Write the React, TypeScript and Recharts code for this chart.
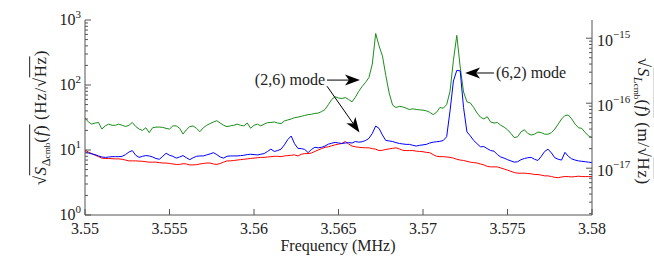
import React from "react";
import { LineChart, Line, XAxis, YAxis, ReferenceLine } from "recharts";

const SERIF = "'Liberation Serif', 'DejaVu Serif', serif";
const AXIS = "#555";

// frequency grid (MHz)
const F0 = 3.55;
const DF = 0.0002;

// sqrt(S_Δcmb) for the three traces, Hz/√Hz
const GREEN = [
  31, 27, 25, 26, 26.5, 21, 23.5, 25, 24, 24,
  25, 24, 23, 24, 26.5, 23, 21, 20, 22, 18.5,
  22, 22.5, 22.5, 22.3, 21.5, 21, 23.5, 23.5, 21.6, 17.6,
  20.5, 23, 23.4, 21.5, 19.1, 22, 24, 25.5, 27, 28.2,
  26, 24, 22.9, 23.5, 24, 25, 24, 23.5, 26, 21.6,
  24, 25, 23.5, 25, 26.3, 26.5, 27, 26, 25.5, 28,
  29, 30, 31.5, 32, 33, 34, 35, 35.5, 36.5, 37,
  39, 42, 50, 60, 66, 63, 62, 64, 60, 55,
  65, 80, 95, 110, 130, 210, 620, 400, 280, 140,
  75, 49, 45, 47, 46, 44, 42, 43, 42, 41.5,
  41, 40, 38, 35, 38, 45, 44, 50, 80, 240,
  580, 190, 78, 55, 53, 45, 37, 32, 30, 32.5,
  27, 26, 26.5, 24, 22.5, 20.5, 18, 15.5, 16, 19,
  20.5, 18, 17, 17.5, 18.9, 18.5, 17.5, 17.5, 18.5, 21,
  25, 30, 34, 34.5, 30, 25, 22, 21.5, 18.5, 16.5, 15.5,
];

const BLUE = [
  9.4, 9, 8.7, 8.5, 8.1, 7.8, 7.7, 7.8, 7.9, 7.9,
  7.9, 8, 8.5, 9.3, 9.8, 8.3, 7.7, 8, 8.2, 8.1,
  7.8, 7.4, 7.2, 8, 8.9, 8.3, 8, 7.5, 7.8, 8.2,
  7.6, 7.1, 7.6, 8, 8.1, 8.1, 8.4, 8.7, 9.1, 8.5,
  7.8, 7.5, 8, 8.1, 8.1, 8.1, 8.2, 8.3, 8.5, 8.6,
  8.5, 8.4, 8.6, 8.8, 9.5, 10.3, 9.5, 9.8, 10.3, 12,
  14.5, 16.4, 12.5, 10.6, 10.5, 10.2, 9.1, 10.2, 11, 10.8,
  11, 11.5, 12.3, 12.7, 13.1, 12.8, 12.6, 12.8, 13, 12.8,
  13.5, 13.2, 13.4, 14, 15.1, 18, 23.4, 21.5, 17, 14,
  13.8, 13.5, 13, 12.6, 12.4, 12.2, 12.2, 11.8, 11.5, 11.8,
  12, 12.2, 12.8, 13.2, 13.4, 13.6, 14, 16, 40, 115,
  168, 165, 45, 19, 16.5, 14, 12.5, 11.2, 11.3, 10.5,
  9.8, 9.6, 8.5, 7.8, 7.5, 7.1, 6.8, 6.5, 6.6, 7.1,
  7.4, 7.6, 7.7, 7.2, 6.9, 8, 9.5, 10.3, 9, 7.6,
  7.2, 7, 9.2, 8, 7.3, 7, 6.8, 6.7, 6.6, 6.5, 6.4,
];

const RED = [
  10, 9.3, 8.8, 8.3, 7.9, 7.5, 7.4, 7.4, 7.35, 7.3,
  7.3, 7.2, 7, 6.8, 6.8, 6.8, 6.75, 6.7, 6.6, 6.5,
  6.5, 6.5, 6.4, 6.3, 6.3, 6.2, 6.1, 6, 6, 6.15,
  6.1, 5.9, 5.9, 5.95, 6.1, 6.2, 6.3, 6.3, 6.1, 6,
  6.2, 6.5, 6.8, 6.8, 6.9, 7, 7.1, 7.2, 7.3, 7.4,
  7.5, 7.6, 7.7, 7.7, 7.8, 7.9, 8, 8, 7.9, 8.1,
  8.2, 8.3, 8.4, 8.1, 8.6, 8.8, 8.8, 9, 9.5, 10,
  10.5, 11, 11.2, 11.6, 12, 12.3, 12.6, 13.5, 12.4, 11.5,
  11.2, 11, 10.9, 10.8, 10.8, 10.5, 10.3, 9.8, 9.9, 10.2,
  10.4, 10.6, 10.8, 10.4, 9.9, 9.8, 9.8, 9.8, 9.6, 9.5,
  9.4, 9.2, 9.1, 8.5, 8, 7.9, 7.9, 7.8, 7.7, 7.5,
  7.2, 7, 6.9, 6.7, 6.5, 6.4, 6.3, 6.1, 5.9, 5.6,
  5.5, 5.5, 5.5, 5.3, 5.1, 4.9, 4.7, 4.5, 4.4, 4.4,
  4.4, 4.35, 4.3, 4.2, 4.2, 4.1, 4, 4, 3.9, 3.8,
  3.75, 3.85, 3.9, 3.9, 3.85, 3.9, 3.95, 3.9, 3.9, 3.9, 3.9,
];

const X_TICKS = [3.55, 3.555, 3.56, 3.565, 3.57, 3.575, 3.58];
const X_DOMAIN = [3.55, 3.58];
const LEFT_DOMAIN = [1, 1000];
// displacement axis on the right (m/√Hz)
const RIGHT_DOMAIN = [1.905e-18, 1.905e-15];

// arrows: [from, to] in (MHz, Hz/√Hz)
const ARROW_26_H = [{ x: 3.56432, y: 119 }, { x: 3.56627, y: 119 }];
const ARROW_26_D = [{ x: 3.56432, y: 96 }, { x: 3.56624, y: 18.6 }];
const ARROW_62 = [{ x: 3.5742, y: 153 }, { x: 3.57249, y: 153 }];

const rows = GREEN.map((g, i) => ({
  f: F0 + i * DF,
  g,
  b: BLUE[i],
  r: RED[i],
}));

function logTicks(lo: number, hi: number) {
  const out: number[] = [];
  const e0 = Math.floor(Math.log10(lo));
  const e1 = Math.ceil(Math.log10(hi));
  for (let e = e0; e <= e1; e++) {
    for (let m = 1; m < 10; m++) {
      const v = m * Math.pow(10, e);
      if (v >= lo * 0.999 && v <= hi * 1.001) out.push(v);
    }
  }
  return out;
}

const decade = (v: number) => {
  const l = Math.log10(v);
  return Math.abs(l - Math.round(l)) < 1e-6 ? Math.round(l) : null;
};

const expText = (e: number) => (e < 0 ? "\u2212" + -e : String(e));

const BottomTick = ({ x, y, payload }: any) => (
  <g>
    <line x1={x} y1={y} x2={x} y2={y - 6} stroke={AXIS} />
    <text x={x} y={y + 19} textAnchor="middle" fontSize={16} fontFamily={SERIF} fill="#222">
      {String(payload.value)}
    </text>
  </g>
);

const LeftTick = ({ x, y, payload }: any) => {
  const e = decade(payload.value);
  return (
    <g>
      <line x1={x} y1={y} x2={x + (e !== null ? 6 : 3)} y2={y} stroke={AXIS} />
      {e !== null && (
        <text x={x - 4} y={y + 5} textAnchor="end" fontSize={16} fontFamily={SERIF} fill="#222">
          10
          <tspan dy={-7} fontSize={11}>
            {expText(e)}
          </tspan>
        </text>
      )}
    </g>
  );
};

const RightTick = ({ x, y, payload }: any) => {
  const e = decade(payload.value);
  return (
    <g>
      <line x1={x} y1={y} x2={x - (e !== null ? 6 : 3)} y2={y} stroke={AXIS} />
      {e !== null && (
        <text x={x + 5} y={y + 8} textAnchor="start" fontSize={16} fontFamily={SERIF} fill="#222">
          10
          <tspan dy={-8} fontSize={11}>
            {expText(e)}
          </tspan>
        </text>
      )}
    </g>
  );
};

function arrowShape(label?: string, side?: "start" | "end") {
  return (p: any) => {
    const { x1, y1, x2, y2 } = p;
    const dx = x2 - x1;
    const dy = y2 - y1;
    const len = Math.hypot(dx, dy) || 1;
    const ux = dx / len;
    const uy = dy / len;
    const nx = -uy;
    const ny = ux;
    const L = 15;
    const W = 5.5;
    const N = 4;
    const bx = x2 - ux * L;
    const by = y2 - uy * L;
    const nbx = x2 - ux * (L - N);
    const nby = y2 - uy * (L - N);
    const pts = [
      [x2, y2],
      [bx + nx * W, by + ny * W],
      [nbx, nby],
      [bx - nx * W, by - ny * W],
    ]
      .map((q) => q.join(","))
      .join(" ");
    return (
      <g>
        <line x1={x1} y1={y1} x2={nbx} y2={nby} stroke="#000" strokeWidth={1} />
        <polygon points={pts} fill="#000" />
        {label && (
          <text
            x={side === "end" ? x1 - 2 : x1 + 2}
            y={y1 + 5}
            textAnchor={side}
            fontSize={16}
            fontFamily={SERIF}
            fill="#222"
          >
            {label}
          </text>
        )}
      </g>
    );
  };
}

const titleBox = (cx: number, cy: number, rot: number, size = 16): React.CSSProperties => ({
  position: "absolute",
  left: cx,
  top: cy,
  transform: `translate(-50%, -50%) rotate(${rot}deg)`,
  whiteSpace: "nowrap",
  fontFamily: SERIF,
  fontSize: size,
  lineHeight: "22px",
  color: "#222",
});

const bar: React.CSSProperties = { borderTop: "1px solid #222", paddingTop: 1 };
const sub: React.CSSProperties = { fontSize: "0.72em", verticalAlign: "-0.3em" };
const sp: React.CSSProperties = { letterSpacing: "0.6px" };

export default function App() {
  return (
    <div style={{ position: "absolute", left: 0, top: 0, width: 654, height: 268, background: "#fff" }}>
      <LineChart width={654} height={268} data={rows} margin={{ top: 20, right: 0, bottom: 0, left: 0 }}>
        <XAxis
          xAxisId="bottom"
          dataKey="f"
          type="number"
          domain={X_DOMAIN}
          ticks={X_TICKS}
          interval={0}
          height={53}
          tickSize={0}
          tickMargin={0}
          tickLine={false}
          axisLine={{ stroke: AXIS }}
          tick={<BottomTick />}
        />
        <XAxis
          xAxisId="top"
          dataKey="f"
          type="number"
          orientation="top"
          domain={X_DOMAIN}
          height={0}
          tick={false}
          tickLine={false}
          axisLine={{ stroke: AXIS }}
        />
        <YAxis
          yAxisId="left"
          type="number"
          scale="log"
          domain={LEFT_DOMAIN}
          allowDataOverflow
          ticks={logTicks(LEFT_DOMAIN[0], LEFT_DOMAIN[1])}
          interval={0}
          width={85}
          tickSize={0}
          tickMargin={0}
          tickLine={false}
          axisLine={{ stroke: AXIS }}
          tick={<LeftTick />}
        />
        <YAxis
          yAxisId="right"
          orientation="right"
          type="number"
          scale="log"
          domain={RIGHT_DOMAIN}
          allowDataOverflow
          ticks={logTicks(RIGHT_DOMAIN[0], RIGHT_DOMAIN[1])}
          interval={0}
          width={62}
          tickSize={0}
          tickMargin={0}
          tickLine={false}
          axisLine={{ stroke: AXIS }}
          tick={<RightTick />}
        />
        <Line xAxisId="bottom" yAxisId="left" dataKey="g" stroke="#1a8f1a" strokeWidth={1} dot={false} type="linear" isAnimationActive={false} />
        <Line xAxisId="bottom" yAxisId="left" dataKey="r" stroke="#ff0000" strokeWidth={1} dot={false} type="linear" isAnimationActive={false} />
        <Line xAxisId="bottom" yAxisId="left" dataKey="b" stroke="#0000ff" strokeWidth={1} dot={false} type="linear" isAnimationActive={false} />
        <ReferenceLine xAxisId="bottom" yAxisId="left" segment={ARROW_26_H} shape={arrowShape("(2,6) mode", "end")} />
        <ReferenceLine xAxisId="bottom" yAxisId="left" segment={ARROW_26_D} shape={arrowShape()} />
        <ReferenceLine xAxisId="bottom" yAxisId="left" segment={ARROW_62} shape={arrowShape("(6,2) mode", "start")} />
      </LineChart>

      <div style={titleBox(44, 118, -90, 17)}>
        <span style={sp}>{"\u221A"}</span>
        <span style={bar}>
          <i style={sp}>S</i>
          <span style={sub}>
            {"\u0394"}
            <span style={{ fontSize: "0.75em" }}>cmb</span>
          </span>
          <span style={sp}>
            (<i>f</i>)
          </span>
        </span>
        <span style={sp}>{"  "}(Hz/{"\u221A"}</span>
        <span style={{ ...bar, ...sp }}>Hz</span>)
      </div>

      <div style={titleBox(640, 121, 90, 17)}>
        <span style={sp}>{"\u221A"}</span>
        <span style={bar}>
          <i style={sp}>S</i>
          <span style={sub}>
            <i>L</i>
            <span style={{ fontSize: "0.75em" }}>cmb</span>
          </span>
          <span style={sp}>
            (<i>f</i>)
          </span>
        </span>
        <span style={sp}>{"  "}(m/{"\u221A"}</span>
        <span style={{ ...bar, ...sp }}>Hz</span>)
      </div>

      <div style={titleBox(338, 246, 0)}>Frequency (MHz)</div>
    </div>
  );
}
